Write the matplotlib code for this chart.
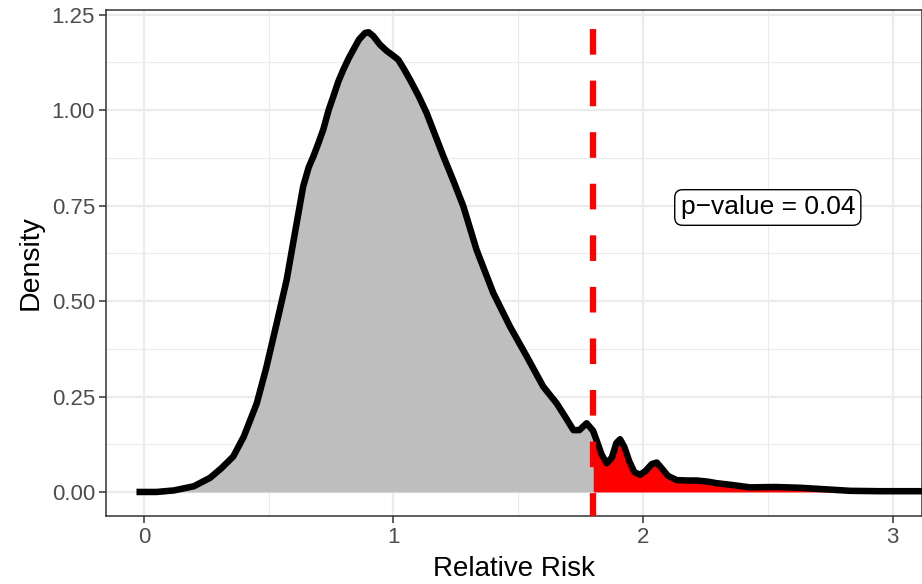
import matplotlib
matplotlib.use("Agg")
import matplotlib.pyplot as plt
import numpy as np

plt.rcParams['font.family'] = ['Liberation Sans', 'DejaVu Sans']

# density curve
rr = [-0.03, 0.05, 0.12, 0.20, 0.265, 0.31, 0.358, 0.40, 0.452, 0.49, 0.532, 0.572,
      0.60, 0.638, 0.66, 0.679, 0.70, 0.719, 0.74, 0.759, 0.779, 0.799, 0.82, 0.839,
      0.862, 0.886, 0.90, 0.919, 0.945, 0.973, 1.00, 1.019, 1.04, 1.066, 1.10, 1.133,
      1.165, 1.20, 1.24, 1.28, 1.333, 1.40, 1.467, 1.534, 1.60, 1.654, 1.69, 1.721,
      1.745, 1.774, 1.80, 1.814, 1.834, 1.854, 1.875, 1.893, 1.908, 1.925, 1.945,
      1.965, 1.988, 2.01, 2.035, 2.055, 2.075, 2.10, 2.135, 2.18, 2.215, 2.26, 2.295,
      2.36, 2.429, 2.53, 2.629, 2.73, 2.83, 2.95, 3.05, 3.15]
dens = [0.000, 0.000, 0.004, 0.015, 0.037, 0.062, 0.093, 0.145, 0.232, 0.325, 0.442, 0.556,
        0.660, 0.800, 0.850, 0.879, 0.915, 0.950, 1.000, 1.036, 1.075, 1.106, 1.135, 1.158,
        1.185, 1.202, 1.204, 1.194, 1.172, 1.155, 1.142, 1.132, 1.110, 1.080, 1.038, 0.992,
        0.938, 0.879, 0.815, 0.748, 0.634, 0.521, 0.433, 0.355, 0.276, 0.232, 0.195, 0.162,
        0.162, 0.180, 0.160, 0.135, 0.098, 0.075, 0.090, 0.128, 0.138, 0.118, 0.080,
        0.052, 0.045, 0.055, 0.073, 0.077, 0.062, 0.042, 0.031, 0.030, 0.030, 0.027, 0.023,
        0.018, 0.012, 0.013, 0.011, 0.007, 0.003, 0.002, 0.002, 0.002]
observed_rr = 1.80
p_label = "p\u2212value = 0.04"
label_pos = (2.5, 0.745)

x = np.array(rr)
y = np.array(dens)

fig = plt.figure(figsize=(9.22, 5.84), dpi=100)
ax = fig.add_axes([0.115, 0.1164, 0.885, 0.867])

# grid like theme_bw
ax.set_xticks([0, 1, 2, 3])
ax.set_xticks([0.5, 1.5, 2.5], minor=True)
ax.set_yticks([0, 0.25, 0.5, 0.75, 1.0, 1.25])
ax.set_yticks([0.125, 0.375, 0.625, 0.875, 1.125], minor=True)
ax.set_yticklabels(["0.00", "0.25", "0.50", "0.75", "1.00", "1.25"])
ax.grid(which='major', color='#EBEBEB', lw=1.6)
ax.grid(which='minor', color='#EBEBEB', lw=0.8)
ax.set_axisbelow(True)

left = x <= observed_rr
right = x >= observed_rr
ax.fill_between(x[left], 0, y[left], color='#BEBEBE', lw=0, zorder=2)
ax.fill_between(x[right], 0, y[right], color='#FF0000', lw=0, zorder=2)
ax.plot(x, y, color='black', lw=4.7, solid_capstyle='butt', solid_joinstyle='round', zorder=3)

ylo, yhi = -0.063, 1.263
ax.plot([observed_rr, observed_rr], [yhi, ylo], color='#FF0000', lw=4.5,
        linestyle=(5.2, (4.1, 4.15)), dash_capstyle='butt', zorder=4)

ax.text(label_pos[0], label_pos[1], p_label, fontsize=19, ha='center', va='center',
        zorder=5,
        bbox=dict(boxstyle='round,pad=0.22,rounding_size=0.3', fc='white', ec='black', lw=1))

ax.set_xlim(-0.152, 3.118)
ax.set_ylim(ylo, yhi)

for s in ax.spines.values():
    s.set_color('#333333')
    s.set_linewidth(1.1)
ax.tick_params(which='major', length=5, width=1.1, color='#333333', labelsize=16,
               labelcolor='#4D4D4D', pad=3)
ax.tick_params(which='minor', length=0)

ax.set_xlabel("Relative Risk", fontsize=20, labelpad=6)
ax.set_ylabel("Density", fontsize=20.5, labelpad=6)

fig.savefig("out.png", dpi=100)
